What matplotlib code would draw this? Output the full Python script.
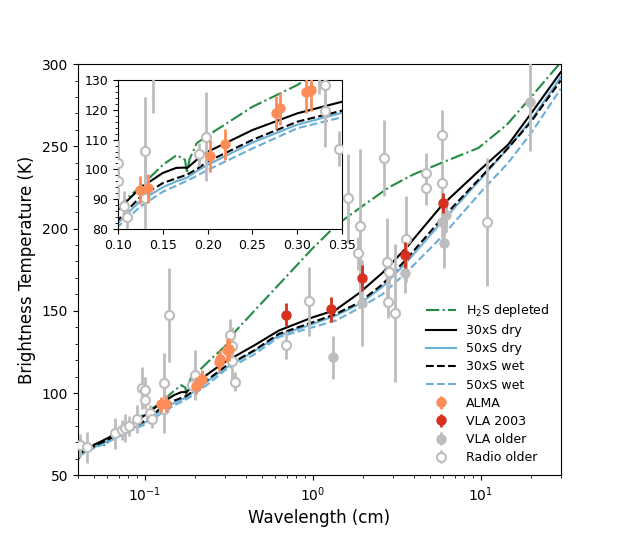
"""Brightness temperature spectrum: model curves vs ALMA / VLA / older radio data."""

import matplotlib

matplotlib.use("Agg")
import matplotlib.pyplot as plt
from matplotlib.ticker import AutoMinorLocator

# ---- model curves (wavelength in cm, brightness temperature in K) ----
wl_model = [0.04, 0.045, 0.05, 0.06, 0.07, 0.08, 0.09, 0.10, 0.125, 0.15,
            0.165, 0.175, 0.177, 0.19, 0.20, 0.25, 0.30, 0.35, 0.45, 0.63,
            1.0, 1.37, 1.89, 2.6, 3.59, 5.87, 10.0, 14.6, 20.0, 30.0]
tb_30s_dry = [64, 66, 68.5, 72.5, 76.5, 80, 83.5, 86.4, 93.8, 98.8,
              100.5, 100.6, 100.4, 103.8, 105.9, 113.2, 118.8, 122.7, 129, 138,
              146, 150.5, 160.7, 173, 188, 214, 236, 251, 270, 295]
tb_50s_dry = [62.5, 64.5, 67, 70.8, 74.3, 77.3, 79.8, 82, 89.5, 94,
              96, 97, 97.2, 99.8, 101.5, 109, 115, 119, 125.5, 135,
              142, 147, 154, 164.5, 179, 204, 230, 249, 266, 292]
tb_30s_wet = [63, 65, 67.5, 71.5, 75, 78, 80.5, 83, 90.8, 95.4,
              97, 98, 98.2, 100.5, 102.6, 109.9, 116, 119.7, 126, 136,
              143, 148, 155, 166, 181, 206, 231, 249, 265, 290]
tb_50s_wet = [61.5, 64, 66.5, 70, 73.5, 76.5, 78.8, 80.8, 87.5, 92.5,
              94.5, 95.9, 96.1, 98.2, 99.8, 107, 113.8, 117.5, 123.5, 134,
              140, 144, 151.6, 160, 173, 195, 222, 240, 258, 285]

wl_h2s = [0.04, 0.042, 0.045, 0.05, 0.055, 0.058, 0.062, 0.07, 0.08, 0.09,
          0.10, 0.125, 0.15, 0.1655, 0.1748, 0.177, 0.1796, 0.1878, 0.2008, 0.25,
          0.30, 0.35, 0.45, 0.63, 1.0, 1.38, 2.0, 2.84, 4.0, 5.87,
          9.7, 14.3, 20.0, 30.0]
tb_h2s = [59, 63, 65.5, 68.5, 70, 68, 72, 75.5, 79.5, 83.5,
          87.5, 94.2, 101.5, 104.8, 103.2, 98.7, 103.2, 108.8, 111.5, 121,
          128.3, 138, 150, 166, 188, 202, 214, 225, 233, 240,
          249, 263, 280, 301]

# ---- observations ----
alma_wl = [0.1246, 0.1338, 0.2027, 0.2194, 0.2763, 0.281, 0.310, 0.3155]
alma_tb = [93.1, 93.6, 104.5, 108.4, 119.0, 120.5, 126.0, 126.6]
alma_err = [4.7, 5.0, 5.3, 5.3, 5.5, 5.5, 7.0, 7.0]

vla03_wl = [0.694, 1.28, 1.97, 3.54, 5.95]
vla03_tb = [147.7, 150.8, 169.8, 183.8, 215.5]
vla03_err = [7.0, 7.6, 8.0, 8.0, 6.0]

vlaold_wl = [1.33, 1.97, 3.54, 5.9, 6.05, 6.2, 19.8]
vlaold_tb = [121.6, 154.6, 173.0, 204.0, 191.3, 208.0, 277.0]
vlaold_err = [13, 26, 12, 10, 15, 10, 30]

radio_wl = [0.0411, 0.0453, 0.0664, 0.073, 0.076, 0.081, 0.0897, 0.096, 0.100, 0.100,
            0.107, 0.110, 0.130, 0.130, 0.139, 0.190, 0.198, 0.324, 0.331, 0.331,
            0.347, 0.694, 0.945, 1.62, 1.86, 1.91, 2.66, 2.78, 2.84, 2.80,
            3.08, 3.60, 4.70, 4.70, 5.87, 5.87, 10.85]
radio_tb = [68.2, 67.0, 75.5, 77.4, 78.6, 79.8, 84.0, 103.0, 102.0, 96.0,
            87.7, 84.0, 106.2, 90.4, 147.3, 105.0, 111.0, 135.2, 128.3, 119.5,
            107.0, 129.0, 155.8, 218.5, 185.0, 201.5, 243.0, 179.7, 173.7, 155.4,
            148.7, 193.6, 234.0, 224.6, 256.8, 227.8, 204.0]
radio_err = [7, 9.6, 9.6, 6, 8.6, 6, 8.6, 13, 8, 6,
             5, 5, 18, 15, 28.5, 4, 15, 10, 12, 12,
             6, 8.5, 21, 27, 10, 47, 23, 27, 8, 10,
             42, 26, 12, 10, 15, 12, 39]

C_GREEN = "#238b45"
C_BLUE = "#6baed6"
C_ALMA = "#fc8d59"
C_VLA03 = "#d7301f"
C_GRAY = "#bdbdbd"


def draw(ax, ms):
    ax.plot(wl_h2s, tb_h2s, "-.", color=C_GREEN, lw=1.5, label=r"H$_2$S depleted")
    ax.plot(wl_model, tb_30s_dry, "-", color="black", lw=1.5, label="30xS dry")
    ax.plot(wl_model, tb_50s_dry, "-", color=C_BLUE, lw=1.5, label="50xS dry")
    ax.plot(wl_model, tb_30s_wet, "--", color="black", lw=1.5, label="30xS wet")
    ax.plot(wl_model, tb_50s_wet, "--", color=C_BLUE, lw=1.5, label="50xS wet")
    kw = dict(fmt="o", ms=ms, elinewidth=2, capsize=0)
    ax.errorbar(alma_wl, alma_tb, yerr=alma_err, color=C_ALMA, label="ALMA", zorder=5, **kw)
    ax.errorbar(vla03_wl, vla03_tb, yerr=vla03_err, color=C_VLA03, label="VLA 2003", zorder=4, **kw)
    ax.errorbar(vlaold_wl, vlaold_tb, yerr=vlaold_err, color=C_GRAY, label="VLA older", zorder=3, **kw)
    ax.errorbar(radio_wl, radio_tb, yerr=radio_err, color=C_GRAY, mfc="white", mec=C_GRAY,
                mew=1.5, label="Radio older", zorder=3, **kw)


fig = plt.figure(figsize=(6.23, 5.34), dpi=100)
ax = fig.add_axes([0.125, 0.11, 0.775, 0.77])
draw(ax, 6.5)
ax.set_xscale("log")
ax.set_xlim(0.04, 30)
ax.set_ylim(50, 300)
ax.yaxis.set_minor_locator(AutoMinorLocator(5))
ax.tick_params(labelsize=10)
ax.set_xlabel("Wavelength (cm)", fontsize=12)
ax.set_ylabel("Brightness Temperature (K)", fontsize=12)
ax.legend(loc="lower right", bbox_to_anchor=(1.0, 0.0), frameon=False, fontsize=9,
          handlelength=2.4, labelspacing=0.41)

# zoomed inset on the ALMA band
axin = fig.add_axes([0.1894, 0.5712, 0.3596, 0.279])
draw(axin, 6.5)
axin.set_xlim(0.10, 0.35)
axin.set_ylim(80, 130)
axin.set_xticks([0.10, 0.15, 0.20, 0.25, 0.30, 0.35])
axin.yaxis.set_minor_locator(AutoMinorLocator(5))
axin.tick_params(labelsize=9)

fig.savefig("out.png", dpi=100)
